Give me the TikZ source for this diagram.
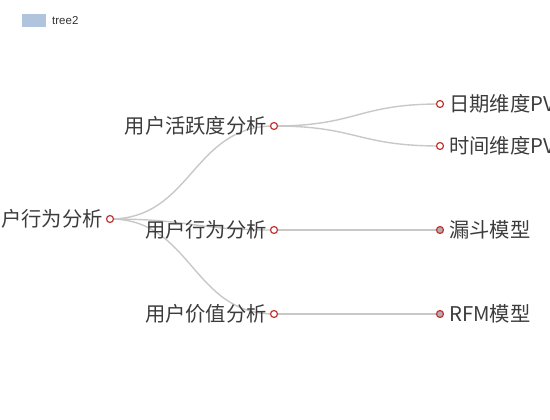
\documentclass[tikz,border=0pt]{standalone}
\usepackage{fontspec}
\setmainfont{Noto Sans CJK SC}
\newfontfamily\legfont{Liberation Sans}
\usetikzlibrary{calc,backgrounds}
\definecolor{edgegray}{HTML}{C8C8C8}
\definecolor{nodered}{HTML}{C23531}
\definecolor{leafgray}{HTML}{B0B0B4}
\definecolor{txtgray}{HTML}{3C3C3C}
\definecolor{legblue}{HTML}{B0C4DE}
\tikzset{
  tnode/.style={circle,draw=nodered,line width=1.2pt,fill=white,minimum size=7pt,inner sep=0pt},
  tleaf/.style={tnode,fill=leafgray},
  edgeline/.style={draw=edgegray,line width=1.4pt},
  lbl/.style={text=txtgray,font=\fontsize{20.3}{23}\selectfont,inner sep=0pt},
  leglbl/.style={text=black!80,font=\legfont\fontsize{11.5}{13}\selectfont,inner sep=0pt,anchor=west},
  legbox/.style={fill=legblue,draw=none}
}
\newcommand\tedge[2]{\path ($(#1)!0.5!(#2)$) coordinate (m#1#2);
  \draw[edgeline] (#1.center) .. controls (m#1#2 |- #1) and (m#1#2 |- #2) .. (#2.center);}
\begin{document}
\begin{tikzpicture}[x=1pt,y=-1pt]
\useasboundingbox (0,0) rectangle (550,420);
\clip (0,0) rectangle (550,420);
% legend
\path[legbox] (22,14) rectangle (46,27) node[midway] (legkey) {};
\node[leglbl] (legtxt) at (52,20.5) {tree2};
% nodes
\node[tnode] (r) at (110,219) {};
\node[tnode] (a) at (274,126) {};
\node[tnode] (b) at (274,230) {};
\node[tnode] (c) at (274,314) {};
\node[tnode] (aa) at (440,104) {};
\node[tnode] (ab) at (440,146) {};
\node[tleaf] (ba) at (440,230) {};
\node[tleaf] (ca) at (440,314) {};
% labels
\node[lbl,anchor=east] (rl) at ([xshift=-7pt]r.center) {用户行为分析};
\node[lbl,anchor=east] (al) at ([xshift=-7pt]a.center) {用户活跃度分析};
\node[lbl,anchor=east] (bl) at ([xshift=-7pt]b.center) {用户行为分析};
\node[lbl,anchor=east] (cl) at ([xshift=-7pt]c.center) {用户价值分析};
\node[lbl,anchor=west] (aal) at ([xshift=9pt]aa.center) {日期维度PV};
\node[lbl,anchor=west] (abl) at ([xshift=9pt]ab.center) {时间维度PV};
\node[lbl,anchor=west] (bal) at ([xshift=9pt]ba.center) {漏斗模型};
\node[lbl,anchor=west] (cal) at ([xshift=9pt]ca.center) {RFM模型};
% edges
\begin{scope}[on background layer]
\tedge{r}{a}
\tedge{r}{b}
\tedge{r}{c}
\tedge{a}{aa}
\tedge{a}{ab}
\tedge{b}{ba}
\tedge{c}{ca}
\end{scope}
\end{tikzpicture}
\end{document}
